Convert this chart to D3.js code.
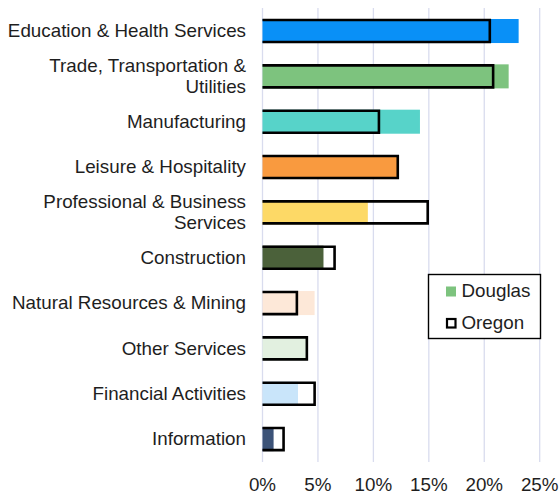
<!DOCTYPE html>
<html>
<head>
<meta charset="utf-8">
<script src="https://cdn.jsdelivr.net/npm/d3@7"></script>
<style>
  html, body { margin: 0; padding: 0; background: #fff; }
  svg { display: block; font-family: "Liberation Sans", Arial, sans-serif; }
</style>
</head>
<body>
<svg id="chart" width="559" height="495"></svg>
<script>
const categories = ["Education & Health Services", "Trade, Transportation & Utilities", "Manufacturing", "Leisure & Hospitality", "Professional & Business Services", "Construction", "Natural Resources & Mining", "Other Services", "Financial Activities", "Information"];
const categoryLines = [["Education & Health Services"], ["Trade, Transportation &", "Utilities"], ["Manufacturing"], ["Leisure & Hospitality"], ["Professional & Business", "Services"], ["Construction"], ["Natural Resources & Mining"], ["Other Services"], ["Financial Activities"], ["Information"]];
const douglas = [23.1, 22.2, 14.2, 12.2, 9.5, 5.5, 4.7, 4.0, 3.2, 1.0];
const oregon = [20.5, 20.8, 10.5, 12.2, 14.9, 6.5, 3.1, 4.0, 4.7, 1.9];
const barColors = ["#0990f7", "#7dc37e", "#57d3c9", "#f99a3f", "#fdd966", "#4b613a", "#fde8d8", "#e2f0e0", "#c9e5fa", "#3c5378"];
const ticks = [0, 5, 10, 15, 20, 25];
const seriesNames = ["Douglas", "Oregon"];

const SX = 1.045; // slight horizontal text stretch
const svg = d3.select("#chart");
const x = d3.scaleLinear().domain([0, 25]).range([262.5, 539.7]);
const y = d3.scaleBand().domain(categories).range([8.35, 461.75]).paddingInner(0.47).paddingOuter(0.235);

// gridlines
svg.append("g").selectAll("line").data(ticks).join("line")
  .attr("x1", d => x(d)).attr("x2", d => x(d))
  .attr("y1", 8).attr("y2", 462)
  .attr("stroke", "#d9dcee").attr("stroke-width", 1.3);

// tick labels
svg.append("g").selectAll("text").data(ticks).join("text")
  .attr("transform", d => `translate(${x(d)},491) scale(${SX},1)`)
  .attr("text-anchor", "middle")
  .attr("font-size", 18).attr("fill", "#1e1e1e")
  .text(d => d + "%");

// Douglas bars
svg.append("g").selectAll("rect").data(categories).join("rect")
  .attr("x", x(0)).attr("y", d => y(d))
  .attr("width", (d, i) => x(douglas[i]) - x(0))
  .attr("height", y.bandwidth())
  .attr("fill", (d, i) => barColors[i]);

// Oregon outlines (no left side)
svg.append("g").selectAll("path").data(categories).join("path")
  .attr("d", (d, i) => {
    const x0 = x(0), x1 = x(oregon[i]), y0 = y(d) + 1, y1 = y(d) + y.bandwidth() - 1;
    return `M${x0},${y0}H${x1}V${y1}H${x0}`;
  })
  .attr("fill", "none").attr("stroke", "#000").attr("stroke-width", 2.6);

// category labels
const lab = svg.append("g").selectAll("text").data(categories).join("text")
  .attr("text-anchor", "end").attr("font-size", 18).attr("fill", "#1e1e1e");
lab.each(function(d, i) {
  const lines = categoryLines[i];
  const cy = y(d) + y.bandwidth() / 2;
  const lh = 21;
  const first = cy - (lines.length - 1) * lh / 2 + 6.4;
  d3.select(this).attr("transform", `translate(246,${first}) scale(${SX},1)`)
    .selectAll("tspan").data(lines).join("tspan")
    .attr("x", 0).attr("y", (t, j) => j * lh).text(t => t);
});

// legend
const lg = svg.append("g");
lg.append("rect").attr("x", 428.5).attr("y", 274.5).attr("width", 112).attr("height", 64)
  .attr("fill", "#fff").attr("stroke", "#000").attr("stroke-width", 1.4);
lg.append("rect").attr("x", 446).attr("y", 286.5).attr("width", 10).attr("height", 10).attr("fill", "#7dc37e");
lg.append("rect").attr("x", 447).attr("y", 319).attr("width", 8.5).attr("height", 8.5)
  .attr("fill", "#fff").attr("stroke", "#000").attr("stroke-width", 2.2);
lg.selectAll("text").data(seriesNames).join("text")
  .attr("transform", (d, i) => `translate(461.5,${297 + i * 32}) scale(${SX},1)`)
  .attr("font-size", 18).attr("fill", "#1e1e1e").text(d => d);
</script>
</body>
</html>
